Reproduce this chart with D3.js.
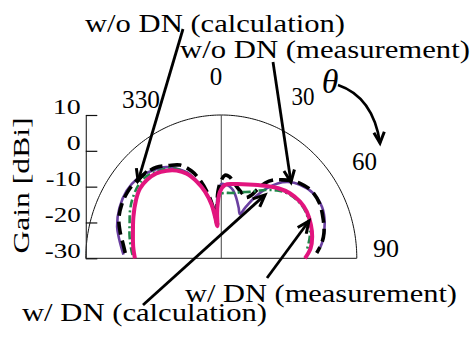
<!DOCTYPE html>
<html><head><meta charset="utf-8">
<script src="https://cdn.jsdelivr.net/npm/d3@7"></script>
<style>
html,body{margin:0;padding:0;background:#fff;}
svg{display:block;}
</style></head><body>
<svg id="chart" width="473" height="340"></svg>
<script>
// Radial gain ticks (dBi) and angle labels (deg)
const gainTicks = [10, 0, -10, -20, -30];
const angleLabels = ["330", "0", "30", "60", "90"];

// Radiation patterns: [theta in degrees (clockwise from 0), gain in dBi]
const woDnCalc = [[-87,-1.6],[-82,-0.7],[-76,0.8],[-70,2.2],[-63,3.0],[-56,3.3],[-49,3.1],[-43,2.6],[-37,1.8],[-31,0.2],[-25,-1.3],[-20,-4.0],[-16,-7.3],[-12.5,-11.3],[-10,-15],[-8.5,-18.5],[-7.3,-20.8],[-5.5,-16.5],[-3,-11.3],[-0.5,-8.6],[2.7,-6.8],[6,-7.1],[9.5,-8.4],[14,-9.8],[19,-10.9],[23,-11.6],[26.5,-10.4],[29,-8],[31.6,-5.3],[35,-3.3],[39.3,-1.7],[43.5,-0.1],[48,1.3],[54.4,2.6],[62,2.8],[70,2.0],[77,1.1],[82,-0.1],[87,-1.8]];
const woDnMeas = [[-88,-1.1],[-84,-0.3],[-80,0.6],[-74,2.0],[-65,3.2],[-56,3.7],[-48,3.3],[-41,2.1],[-35,0.9],[-32,0.0],[-28,-1.6],[-23,-3.9],[-18.7,-7.1],[-14.5,-10.5],[-11,-14.3],[-9,-17.8],[-7.5,-20.5],[-5.5,-16.3],[-3,-11.5],[0,-9.3],[3,-9.3],[7,-9.8],[10.2,-10.6],[13,-11.8],[15.8,-13.1],[20,-15],[24,-16.5],[26.5,-14.3],[30.2,-10.2],[34.6,-6.2],[38.5,-3.3],[42.8,-1.0],[48.5,1.0],[56,2.6],[64.3,3.0],[72,2.1],[80.3,0.4],[84,-0.6]];
const wDnCalc = [[-88,-3.8],[-84,-3.2],[-77,-2.2],[-70,-1.2],[-64,0.0],[-58,1.0],[-50,1.9],[-45,1.9],[-38,0.8],[-31,-0.6],[-27,-2.2],[-23,-4.2],[-18.7,-7.3],[-14.5,-10.7],[-11,-14.5],[-9,-18],[-7.5,-20.3],[-5.5,-16.8],[-3.5,-13.5],[0,-12.0],[3.5,-11.7],[8,-11.6],[12.5,-11.3],[18,-10.6],[24.6,-9.6],[30,-8.2],[34,-7.0],[41,-4.9],[48,-3.2],[55.8,-2.2],[62.7,-1.9],[70,-2.4],[77,-3.2],[84,-4.5]];
const wDnMeas = [[-90,-4.5],[-83,-3.8],[-75,-3.0],[-66,-1.6],[-57,0.0],[-51,0.9],[-45,1.0],[-39,0.5],[-33.4,-0.7],[-28.3,-2.2],[-23.4,-4.3],[-18.7,-7.4],[-14.5,-10.8],[-10.8,-14.8],[-9.1,-18.2],[-7.5,-21.0],[-5.5,-17.3],[-3.9,-14.6],[-1.2,-11.4],[3,-9.5],[11,-8.9],[21,-7.9],[32.4,-6.0],[40.7,-4.2],[48.1,-2.8],[55.8,-1.9],[62.7,-1.6],[70.6,-1.95],[77.3,-2.5],[84,-3.5],[90,-5.3]];

const seriesNames = ["w/o DN (calculation)", "w/o DN (measurement)", "w/ DN (measurement)", "w/ DN (calculation)"];
// Points on each curve that the callouts point at: [theta, gain]
const calloutTargets = [[-48.7, 2.7], [44, -0.4], [68.1, -2.1], [36.1, -8.1]];

// ---- layout ----
const svg = d3.select("#chart");

// pick the first installed Times-like face
function pickFont(cands) {
  const probe = svg.append("text").attr("font-size", 100).text("w/o DN (calculation) 0123");
  probe.attr("font-family", "monospace");
  const base = probe.node().getComputedTextLength();
  let chosen = null;
  for (const c of cands) {
    probe.attr("font-family", `'${c}', monospace`);
    if (Math.abs(probe.node().getComputedTextLength() - base) > 0.5) { chosen = c; break; }
  }
  probe.remove();
  return chosen ? `'${chosen}', serif` : "serif";
}
const FONT = pickFont(["Liberation Serif", "Times New Roman", "Tinos", "Nimbus Roman", "FreeSerif", "DejaVu Serif"]);
svg.attr("font-family", FONT);

const cx = 221.3, cy = 258.3;
const rX = d3.scaleLinear().domain([-30, 10]).range([0, 135.5]);
const rY = d3.scaleLinear().domain([-30, 10]).range([0, 143.3]);
const yAxisScale = d3.scaleLinear().domain([-30, 10]).range([cy, cy - 143.3]);
const rad = d => d * Math.PI / 180;
const px = (t, g) => cx + rX(g) * Math.sin(rad(t));
const py = (t, g) => cy - rY(g) * Math.cos(rad(t));

// outer boundary (10 dBi)
const rim = d3.range(-90, 90.5, 1).map(t => [t, 10]);
const rimLine = d3.line().x(d => px(d[0], d[1])).y(d => py(d[0], d[1]));
svg.append("path").attr("d", rimLine(rim)).attr("fill", "none").attr("stroke", "#111").attr("stroke-width", 1);

// broadside line and baseline
svg.append("line").attr("x1", cx).attr("x2", cx).attr("y1", py(0, 10)).attr("y2", cy)
  .attr("stroke", "#555").attr("stroke-width", 1.1);
svg.append("line").attr("x1", cx - rX(10)).attr("x2", px(90, 10)).attr("y1", cy).attr("y2", cy)
  .attr("stroke", "#444").attr("stroke-width", 1.3);

// gain axis on the left (plain hyphen-minus labels)
const tickLabelWidth = {"10": 28, "0": 14, "-10": 35, "-20": 36, "-30": 36};
const axisG = svg.append("g").attr("transform", `translate(${cx - rX(10)},0)`)
  .call(d3.axisLeft(yAxisScale).tickValues(gainTicks).tickSizeInner(-11.5).tickSizeOuter(0).tickPadding(0)
    .tickFormat(d => String(d)));
axisG.attr("font-family", FONT);
axisG.select(".domain").attr("stroke", "#333").attr("stroke-width", 1.2);
axisG.selectAll(".tick line").attr("stroke", "#111").attr("stroke-width", 1.2);
axisG.selectAll(".tick text")
  .attr("font-family", FONT)
  .attr("font-size", 22).attr("fill", "#000")
  .attr("x", -5).attr("dy", "-0.05em").attr("text-anchor", "end")
  .attr("textLength", d => tickLabelWidth[String(d)]).attr("lengthAdjust", "spacingAndGlyphs");

// axis title
svg.append("text").attr("transform", `translate(28.5,185.5) rotate(-90)`)
  .attr("text-anchor", "middle").attr("font-size", 24)
  .attr("textLength", 136).attr("lengthAdjust", "spacingAndGlyphs")
  .text("Gain [dBi]");

// angle labels
const anglePos = [[141, 108], [216, 85], [303, 105], [364.5, 170], [386, 257]];
const angleWidth = [38, 12.5, 23, 25, 26];
svg.selectAll("text.ang").data(angleLabels).join("text").attr("class", "ang")
  .attr("x", (d, i) => anglePos[i][0]).attr("y", (d, i) => anglePos[i][1])
  .attr("text-anchor", "middle").attr("font-size", 26)
  .attr("textLength", (d, i) => angleWidth[i]).attr("lengthAdjust", "spacingAndGlyphs")
  .text(d => d);

// theta symbol with curved arrow
svg.append("text").attr("x", 330).attr("y", 93).attr("text-anchor", "middle")
  .attr("font-size", 34).attr("font-style", "italic").text("\u03b8");

function arrowHead(g, x0, y0, x1, y1, len, spread) {
  const a = Math.atan2(y1 - y0, x1 - x0);
  const w1 = [x1 - len * Math.cos(a - spread), y1 - len * Math.sin(a - spread)];
  const w2 = [x1 - len * Math.cos(a + spread), y1 - len * Math.sin(a + spread)];
  g.append("path").attr("d", `M${w1[0]},${w1[1]}L${x1},${y1}L${w2[0]},${w2[1]}`)
    .attr("fill", "none").attr("stroke", "#000").attr("stroke-width", 3)
    .attr("stroke-linejoin", "miter");
}
const thetaArrow = svg.append("g");
thetaArrow.append("path").attr("d", "M338,85 Q373,97 380,143")
  .attr("fill", "none").attr("stroke", "#000").attr("stroke-width", 2.6);
arrowHead(thetaArrow, 378.5, 125, 380, 143, 12, 0.45);

// pattern curves
const curve = d3.line().x(d => px(d[0], d[1])).y(d => py(d[0], d[1]))
  .curve(d3.curveCatmullRom.alpha(0.5));
const series = [
  {data: woDnMeas, color: "#6a3fa0", width: 2.6, dash: null},
  {data: woDnCalc, color: "#000", width: 3.6, dash: "13,6"},
  {data: wDnCalc, color: "#21884a", width: 2.6, dash: "8,3,2,3"},
  {data: wDnMeas, color: "#e2157e", width: 4, dash: null}
];
svg.selectAll("path.pattern").data(series).join("path").attr("class", "pattern")
  .attr("d", d => curve(d.data)).attr("fill", "none")
  .attr("stroke", d => d.color).attr("stroke-width", d => d.width)
  .attr("stroke-dasharray", d => d.dash).attr("stroke-linejoin", "round");

// callouts
const calloutText = [[85, 32, 260], [180, 58, 290], [185, 301.5, 272], [22, 321, 245]];
const calloutTail = [[183, 29], [273, 62], [267, 278], [143, 305]];
const calls = svg.append("g");
seriesNames.forEach((name, i) => {
  const [tx, ty, tl] = calloutText[i];
  calls.append("text").attr("x", tx).attr("y", ty).attr("font-size", 25)
    .attr("textLength", tl).attr("lengthAdjust", "spacingAndGlyphs").text(name);
  const [t, g] = calloutTargets[i];
  const x1 = px(t, g), y1 = py(t, g);
  const [x0, y0] = calloutTail[i];
  calls.append("line").attr("x1", x0).attr("y1", y0).attr("x2", x1).attr("y2", y1)
    .attr("stroke", "#000").attr("stroke-width", 2.8);
  arrowHead(calls, x0, y0, x1, y1, 13, 0.42);
});
</script>
</body></html>
